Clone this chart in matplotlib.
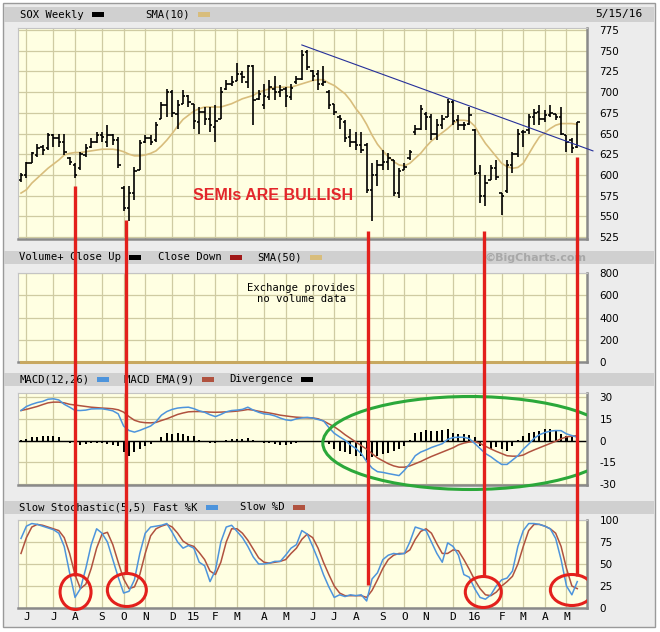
import matplotlib.pyplot as plt
from matplotlib.patches import Rectangle, Ellipse
import numpy as np

# weekly SOX bars (late May 2014 .. mid May 2016)
opens = [594, 600, 614, 624, 634, 632, 648, 645, 640, 620,
         612, 608, 624, 634, 640, 648, 640, 648, 642, 584,
         560, 578, 606, 640, 645, 642, 668, 684, 700, 674,
         686, 695, 686, 664, 676, 668, 658, 668, 704, 710,
         714, 722, 712, 731, 692, 684, 694, 704, 700, 704,
         694, 712, 716, 748, 726, 722, 710, 700, 686, 670,
         664, 646, 640, 636, 636, 582, 600, 612, 616, 618,
         578, 606, 620, 652, 656, 674, 670, 650, 660, 670,
         688, 666, 660, 662, 654, 602, 575, 594, 608, 578,
         580, 612, 625, 652, 654, 670, 676, 668, 672, 674,
         670, 648, 642, 634]
highs = [602, 616, 628, 637, 636, 651, 650, 650, 650, 622,
         614, 628, 637, 644, 652, 652, 660, 650, 646, 586,
         586, 610, 642, 648, 648, 664, 688, 704, 702, 690,
         702, 696, 686, 682, 682, 682, 684, 706, 715, 719,
         735, 725, 733, 733, 702, 710, 715, 719, 709, 706,
         710, 720, 751, 751, 727, 727, 731, 702, 686, 672,
         666, 656, 652, 652, 638, 614, 618, 630, 626, 618,
         608, 614, 630, 660, 684, 676, 674, 668, 672, 692,
         690, 672, 664, 682, 656, 612, 600, 612, 618, 578,
         618, 628, 656, 654, 674, 680, 684, 678, 684, 674,
         682, 648, 644, 664]
lows = [591, 596, 614, 622, 624, 630, 634, 634, 624, 612,
        596, 606, 622, 632, 638, 640, 634, 636, 608, 556,
        544, 570, 606, 638, 636, 640, 668, 670, 670, 656,
        686, 682, 656, 650, 660, 652, 640, 668, 702, 707,
        713, 711, 705, 660, 690, 680, 690, 690, 694, 682,
        690, 710, 715, 727, 713, 702, 707, 680, 672, 656,
        640, 634, 630, 626, 578, 544, 586, 606, 606, 574,
        572, 606, 618, 648, 654, 654, 642, 642, 656, 670,
        660, 654, 654, 660, 600, 566, 562, 594, 594, 552,
        578, 602, 622, 634, 650, 660, 660, 664, 670, 666,
        648, 628, 626, 632]
closes = [600, 614, 626, 632, 630, 648, 645, 640, 628, 615,
          600, 625, 633, 640, 648, 646, 648, 642, 612, 560,
          578, 605, 638, 645, 640, 660, 684, 700, 675, 685,
          695, 688, 665, 676, 668, 660, 665, 700, 710, 712,
          722, 718, 731, 690, 698, 695, 706, 700, 702, 695,
          705, 716, 745, 730, 720, 710, 712, 684, 676, 668,
          645, 640, 636, 630, 582, 600, 612, 616, 620, 578,
          605, 610, 628, 656, 680, 670, 650, 660, 668, 688,
          665, 660, 660, 672, 602, 575, 590, 608, 598, 575,
          612, 625, 650, 652, 670, 675, 668, 672, 675, 670,
          650, 640, 632, 664]
sma10 = [578, 582, 590, 596, 602, 608, 613, 618, 624, 626,
         627, 627, 628, 629, 630, 631, 631, 631, 630, 628,
         625, 623, 623, 624, 626, 629, 635, 642, 650, 659,
         667, 672, 677, 680, 682, 682, 682, 682, 684, 686,
         689, 692, 694, 696, 700, 702, 704, 706, 706, 706,
         706, 708, 710, 712, 714, 715, 715, 711, 708, 703,
         698, 690, 680, 672, 661, 648, 637, 629, 622, 616,
         612, 611, 614, 620, 626, 634, 641, 646, 651, 656,
         662, 666, 666, 665, 659, 648, 638, 630, 622, 614,
         610, 608, 609, 614, 625, 636, 646, 651, 656, 660,
         662, 662, 662, 661]

macd = [20.7, 23.5, 25, 26.2, 27, 28.5, 28.8, 28, 25, 23,
        20.8, 20.7, 21, 21.8, 21.9, 21.9, 21.3, 20.5, 18.4, 10,
        6.9, 5.8, 7, 8.5, 10, 13, 17.5, 20, 21.5, 22.4,
        22.8, 23, 22, 20.5, 19.5, 17.8, 16.5, 18, 19.8, 20.7,
        21, 21.5, 23, 21, 19.5, 18.4, 18, 17, 15.5, 14.3,
        13.8, 15, 15.6, 16, 15.5, 14.5, 13.6, 9, 5, 2.5,
        0.2, -3, -5.5, -9, -14.5, -19, -21.5, -22, -22.8, -23.5,
        -24.2, -20.5, -16, -10.5, -8, -6.5, -4.8, -3.5, -2.2, 0.8,
        2, 2.3, 2.2, 1.3, -2, -5.5, -9, -11.2, -14, -16.5,
        -16.5, -13.5, -10.5, -6, -2.5, 1.5, 4, 5.5, 6.5, 6.9,
        6.8, 4.6, 3.4, 2.3]
macd_ema = [20.7, 21.5, 22.5, 23.5, 24.8, 26, 26.5, 26.5, 26, 25,
            24.5, 24, 23.5, 23, 22.7, 22.4, 22.2, 21.9, 21.2, 19.6,
            16.5, 14, 12.8, 12.3, 12.2, 12.5, 13.8, 15, 16.5, 18,
            19, 19.8, 20, 20, 19.8, 19.6, 19.5, 19.6, 19.8, 20,
            20.3, 20.8, 21.4, 21, 20.2, 19.6, 19, 18.3, 17.5, 17,
            16.5, 16.1, 15.9, 15.7, 15.6, 15, 13.5, 11.5, 9.5, 6.9,
            4, 1.5, -1, -3.5, -6, -9, -12, -14, -16, -17.5,
            -18.4, -18.4, -17.5, -16, -14.5, -12.7, -11, -9.5, -8, -6.5,
            -5, -3, -1.8, -1, -0.7, -2, -4, -5.8, -7.5, -9,
            -10.5, -10.8, -10.8, -10, -8.1, -6.5, -5, -3.5, -2, -0.5,
            1.2, 2.5, 3, 3.4]
divergence = [0.5, 1.0, 2.3, 2.3, 2.8, 3.4, 3.4, 2.3, 0, -1.6,
              -2.3, -3, -2.3, -1.6, -1.6, -1.6, -2.3, -3, -3.9, -8.1,
              -10.4, -8.1, -5.8, -3.9, -2.3, 0, 2.3, 5.3, 4.6, 5.3,
              4.6, 3.4, 2.8, 0.3, -0.3, -1.6, -1.6, -1.2, 0.3, 1.1,
              1.1, 1.1, 1.8, 0.2, -1.2, -1.6, -1.6, -2.3, -3, -3,
              -2.3, -1.6, -1.2, 0, -0.7, -0.7, -1.2, -2.3, -5.8, -6.9,
              -8.1, -9.2, -10.4, -10.8, -13.2, -11.5, -10.4, -9.2, -8.5, -6.9,
              -5.8, -3.5, 0.5, 5.3, 6.2, 7.4, 6.9, 6.9, 7.4, 8.1,
              5.3, 4.6, 4.6, 3.9, 2.3, -3.5, -4.6, -5.8, -4.6, -5.8,
              -6.9, -3.9, 0.3, 3.4, 5.1, 6.2, 6.9, 8.1, 8.1, 6.9,
              4.6, 2.8, 2.3, 0.5]

fast_k = [79, 93, 96, 95, 93, 91, 89, 85, 70, 40,
          12, 22, 45, 72, 90, 85, 75, 55, 35, 17,
          19, 32, 62, 85, 92, 93, 94, 96, 86, 75,
          68, 71, 68, 52, 48, 30, 43, 75, 92, 94,
          87, 80, 70, 58, 50, 50, 51, 53, 53, 60,
          68, 72, 88, 84, 70, 55, 38, 24, 12, 15,
          13, 15, 14, 15, 8, 33, 40, 55, 60, 62,
          61, 62, 75, 92, 90, 88, 75, 62, 52, 74,
          70, 60, 38, 35, 22, 12, 10, 15, 25, 32,
          34, 42, 70, 88, 96, 96, 95, 93, 90, 79,
          55, 25, 15, 30]
slow_d = [62, 80, 92, 95, 94, 92, 90, 88, 80, 62,
          38, 22, 27, 45, 68, 84, 86, 72, 52, 33,
          22, 24, 38, 62, 82, 90, 93, 95, 92, 85,
          76, 72, 70, 63, 55, 42, 38, 52, 75, 90,
          90, 85, 77, 67, 57, 52, 51, 52, 53, 55,
          62, 68, 78, 84, 80, 68, 52, 38, 25, 17,
          14, 14, 14, 14, 12, 20, 32, 45, 55, 60,
          62, 62, 66, 78, 87, 90, 85, 73, 62, 62,
          66, 65, 55, 44, 32, 22, 15, 14, 18, 25,
          30, 36, 50, 70, 88, 95, 95, 93, 90, 85,
          70, 45, 25, 22]

volume_sma50 = [0] * len(closes)  # exchange provides no volume

month_ticks = [1, 6, 10, 15, 19, 23, 28, 32, 36, 40, 45, 49,
               54, 58, 62, 67, 71, 75, 80, 84, 89, 93, 97, 101]
month_labels = ['J', 'J', 'A', 'S', 'O', 'N', 'D', '15', 'F', 'M', 'A', 'M',
                'J', 'J', 'A', 'S', 'O', 'N', 'D', '16', 'F', 'M', 'A', 'M']

# hand-drawn markers: red lows, trendline
low_weeks = [10, 19.4, 64.3, 85.7, 103]
trend_x = [52, 105.9]
trend_y = [757, 629]

n = len(closes)
weeks = np.arange(n)

W, H = 660, 632
xmin, xmax = -0.556, 104.8
px_week = 569 / (xmax - xmin)

BG = '#ececec'
PLOT_BG = '#ffffe2'
GRID = '#cfcba2'
BLUE = '#4d94dc'
RED = '#b0523f'
TAN = '#d8bd7c'
MONO = 'DejaVu Sans Mono'

fig = plt.figure(figsize=(W / 100, H / 100), dpi=100)
fig.patch.set_facecolor('white')


def box(top, bottom, left=18, right=587):
    return [left / W, 1 - bottom / H, (right - left) / W, (bottom - top) / H]


# background frame and header bands
bg = fig.add_axes([0, 0, 1, 1], zorder=0)
bg.set_xlim(0, W)
bg.set_ylim(H, 0)
bg.axis('off')
bg.add_patch(Rectangle((3, 3), 652, 624, facecolor=BG, edgecolor='#9a9a9a', lw=1))
for top, bot in [(7, 22), (251, 264), (373, 386), (501, 514)]:
    bg.add_patch(Rectangle((4, top), 650, bot - top, facecolor='#d0d0d0', edgecolor='none'))

headers = [
    (14.5, [(20, 'SOX Weekly', 'black'), (145, 'SMA(10)', TAN)]),
    (257.5, [(19, 'Volume+ Close Up', 'black'), (158, 'Close Down', '#a01818'),
             (257, 'SMA(50)', TAN)]),
    (379.5, [(19, 'MACD(12,26)', BLUE), (124, 'MACD EMA(9)', RED),
             (229, 'Divergence', 'black')]),
    (507.5, [(19, 'Slow Stochastic(5,5) Fast %K', BLUE), (240, 'Slow %D', RED)]),
]
for y, items in headers:
    for x, label, col in items:
        t = bg.text(x, y, label, fontsize=7.6, family=MONO, va='center', ha='left')
        fig.canvas.draw()
        bb = t.get_window_extent()
        sx = bb.x1 + 8
        bg.add_patch(Rectangle((sx, y - 2.5), 12, 5, facecolor=col, edgecolor='none'))

bg.text(595, 14.5, '5/15/16', fontsize=8, family=MONO, va='center', ha='left')
bg.text(587, 257.5, '\u00a9BigCharts.com', fontsize=8, color='#a8a8a8',
        fontweight='bold', va='center', ha='right')


def panel(top, bottom, ylim, yticks, ylabels=None):
    ax = fig.add_axes(box(top, bottom), zorder=1)
    ax.set_facecolor(PLOT_BG)
    ax.set_xlim(xmin, xmax)
    ax.set_ylim(*ylim)
    ax.set_xticks(month_ticks)
    ax.set_yticks(yticks)
    if ylabels is not None:
        ax.set_yticklabels(ylabels)
    ax.grid(True, color=GRID, lw=0.9)
    ax.set_axisbelow(True)
    ax.yaxis.tick_right()
    ax.tick_params(length=0, labelsize=7.5, pad=9, labelbottom=False)
    for s in ['top', 'left']:
        ax.spines[s].set_color('#c4c4c4')
        ax.spines[s].set_linewidth(0.8)
    for s in ['bottom', 'right']:
        ax.spines[s].set_color('#8a8a8a')
        ax.spines[s].set_linewidth(1.8)
    return ax


# price
ax = panel(28, 239, (522.5, 777.5), np.arange(525, 776, 25))
ax.vlines(weeks, lows, highs, color='black', lw=1.2)
ax.hlines(opens, weeks - 0.45, weeks, color='black', lw=1.2)
ax.hlines(closes, weeks, weeks + 0.45, color='black', lw=1.2)
ax.plot(weeks, sma10, color=TAN, lw=1.2, zorder=1)
ax.plot(trend_x, trend_y, color='#26309a', lw=0.8, clip_on=False, zorder=4)
ax.text(31.9, 574.5, 'SEMIs ARE BULLISH', color='#e3262b', fontsize=11.5,
        fontweight='bold', family='Liberation Sans', va='center', ha='left')

# volume
axv = panel(273, 362, (0, 800), np.arange(0, 801, 200))
axv.plot(weeks, volume_sma50, color='#c8a860', lw=2.2, clip_on=False, zorder=4)
axv.text(51.9, 665, 'Exchange provides', fontsize=7.6, family=MONO, ha='center', va='center')
axv.text(51.9, 566, 'no volume data', fontsize=7.6, family=MONO, ha='center', va='center')

# MACD
axm = panel(393, 485, (-30.7, 32.8), [-30, -15, 0, 15, 30],
            ['-30', '-15', '0', '15', '30'])
axm.axhline(0, color='black', lw=1)
axm.bar(weeks, divergence, width=0.38, color='black')
axm.plot(weeks, macd_ema, color=RED, lw=1.1)
axm.plot(weeks, macd, color=BLUE, lw=1.1)

# slow stochastic
axs = panel(520, 608, (0, 100), [0, 25, 50, 75, 100])
axs.plot(weeks, slow_d, color=RED, lw=1.1)
axs.plot(weeks, fast_k, color=BLUE, lw=1.1)
axs.set_xticklabels(month_labels, family=MONO, fontsize=8)
axs.tick_params(labelbottom=True, axis='x', pad=3)

# hand-drawn annotations on top
ov = fig.add_axes([18 / W, 0, 569 / W, 1], zorder=5)
ov.set_xlim(xmin, xmax)
ov.set_ylim(H, 0)
ov.axis('off')
ov.patch.set_alpha(0)
line_spans = [(186, 576), (220, 574), (231, 585), (231, 577), (157, 576)]
for wk, (y0, y1) in zip(low_weeks, line_spans):
    ov.plot([wk, wk], [y0, y1], color='#e3201c', lw=2.4, solid_capstyle='butt')
circles = [(10.1, 592, 31, 35), (19.6, 590, 39, 33), (85.6, 592, 36, 31), (102, 590, 43, 31)]
for cx, cy, w, h in circles:
    ov.add_patch(Ellipse((cx, cy), w / px_week, h, fill=False, edgecolor='#e3201c', lw=2.2))
ov.add_patch(Ellipse((83.1, 443), 294 / px_week, 93, fill=False, edgecolor='#2ba83a', lw=2.2))

fig.savefig('out.png', dpi=100, facecolor=fig.get_facecolor())
